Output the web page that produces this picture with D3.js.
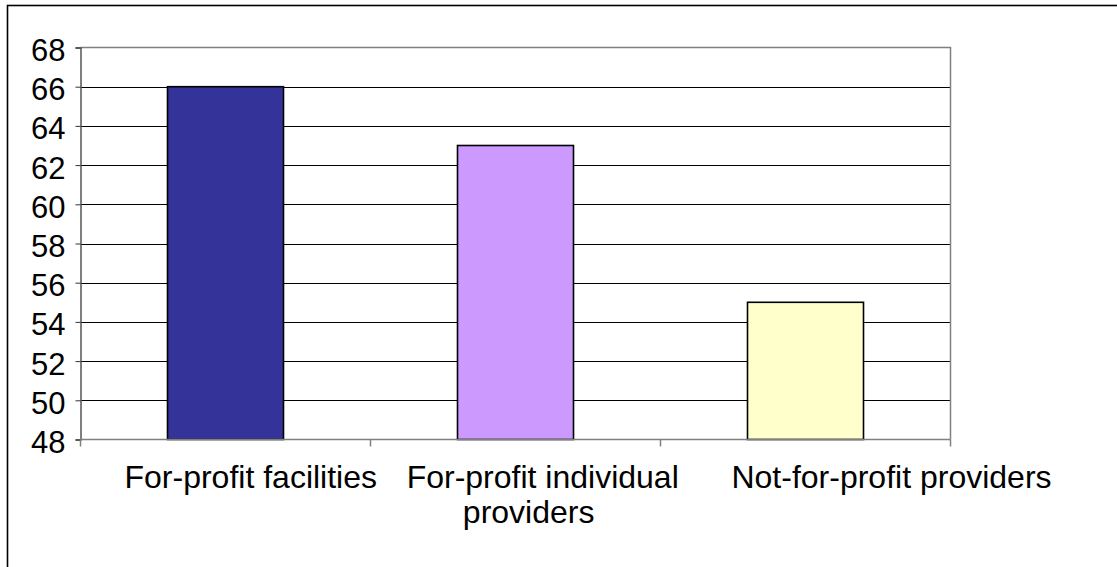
<!DOCTYPE html>
<html>
<head>
<meta charset="utf-8">
<script src="https://cdn.jsdelivr.net/npm/d3@7"></script>
<style>
  html, body { margin: 0; padding: 0; background: #fff; }
  svg { display: block; font-family: "Liberation Sans", Arial, sans-serif; }
</style>
</head>
<body>
<svg id="chart" width="1117" height="567"></svg>
<script>
// Chart data
const categories = ["For-profit facilities", "For-profit individual providers", "Not-for-profit providers"];
const labelLines = [["For-profit facilities"], ["For-profit individual", "providers"], ["Not-for-profit providers"]];
const values = [66, 63, 55];
const barColors = ["#333399", "#CC99FF", "#FFFFCC"];
const yTicks = [48, 50, 52, 54, 56, 58, 60, 62, 64, 66, 68];

const svg = d3.select("#chart");
const W = 1117, H = 567;

// Outer chart frame (extends past the right and bottom edges)
svg.append("rect")
  .attr("x", 7.5).attr("y", 5.5)
  .attr("width", W + 10).attr("height", H + 10)
  .attr("fill", "#fff").attr("stroke", "#000").attr("stroke-width", 1.6);

const plot = { left: 80.5, right: 950.5, top: 47.5, bottom: 439.5 };

const x = d3.scaleBand().domain(categories).range([plot.left, plot.right]).paddingInner(0).paddingOuter(0);
const y = d3.scaleLinear().domain([48, 68]).range([plot.bottom, plot.top]);

// Horizontal gridlines
svg.append("g").selectAll("line")
  .data(yTicks.filter(t => t > 48 && t < 68))
  .join("line")
  .attr("x1", plot.left).attr("x2", plot.right)
  .attr("y1", d => Math.round(y(d)) + 0.5).attr("y2", d => Math.round(y(d)) + 0.5)
  .attr("stroke", "#000").attr("stroke-width", 1);

// Plot-area border: top and right in grey
svg.append("path")
  .attr("d", `M${plot.left},${plot.top}H${plot.right}V${plot.bottom}`)
  .attr("fill", "none").attr("stroke", "#808080").attr("stroke-width", 1.5);

// Bars
const bw = x.bandwidth() * 0.4;
svg.append("g").selectAll("rect")
  .data(values)
  .join("rect")
  .attr("x", (d, i) => x(categories[i]) + (x.bandwidth() - bw) / 2)
  .attr("y", d => y(d))
  .attr("width", bw)
  .attr("height", d => y(48) - y(d))
  .attr("fill", (d, i) => barColors[i])
  .attr("stroke", "#000").attr("stroke-width", 1.6);

// Y axis
const yAxis = svg.append("g")
  .attr("transform", `translate(${plot.left},0)`)
  .call(d3.axisLeft(y).tickValues(yTicks).tickSize(5).tickPadding(10).tickFormat(d3.format("d")));
yAxis.select(".domain").attr("stroke", "#555").attr("stroke-width", 1.5);
yAxis.selectAll(".tick line").attr("stroke", "#333");
yAxis.selectAll(".tick text")
  .attr("font-size", 31).attr("fill", "#000").attr("dy", "0.42em")
  .attr("font-family", "Liberation Sans, Arial, sans-serif");

// X axis
const xAxis = svg.append("g")
  .attr("transform", `translate(0,${plot.bottom})`);
xAxis.append("line")
  .attr("x1", plot.left).attr("x2", plot.right)
  .attr("y1", 0).attr("y2", 0)
  .attr("stroke", "#808080").attr("stroke-width", 1.5);
const xTickPos = [plot.left].concat(categories.map(c => x(c) + x.bandwidth()));
xAxis.selectAll(".xt")
  .data(xTickPos)
  .join("line")
  .attr("class", "xt")
  .attr("x1", d => d).attr("x2", d => d)
  .attr("y1", 0).attr("y2", 7)
  .attr("stroke", "#808080").attr("stroke-width", 1.5);

// Category labels
const labelShift = [0, 0, 54];
categories.forEach((c, i) => {
  const cx = x(c) + x.bandwidth() / 2;
  const t = svg.append("text")
    .attr("font-size", 32).attr("fill", "#000");
  labelLines[i].forEach((line, j) => {
    const ts = t.append("tspan")
      .attr("y", 488 + j * 35)
      .text(line);
    const len = ts.node().getComputedTextLength();
    ts.attr("x", cx - len * 0.4 + labelShift[i]);
  });
});
</script>
</body>
</html>
